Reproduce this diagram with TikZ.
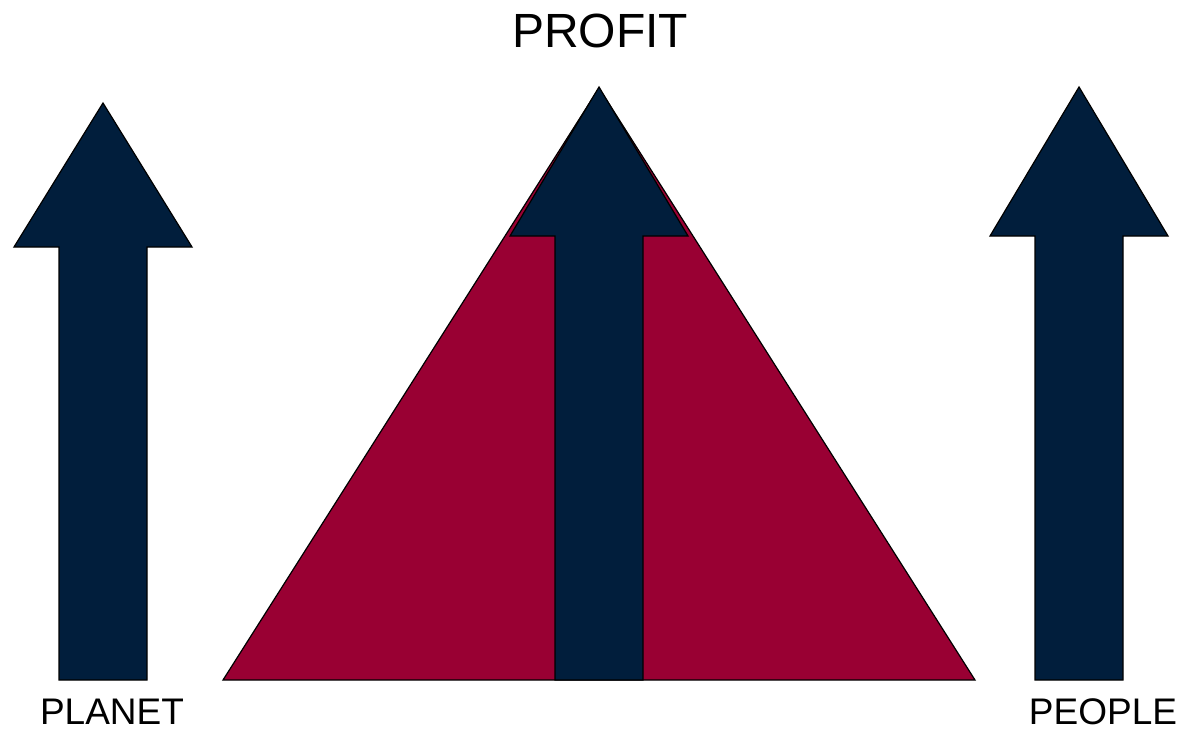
\documentclass[tikz,border=0pt]{standalone}
\usepackage{fontspec}
\setmainfont{Liberation Sans}
\usetikzlibrary{positioning}
\definecolor{navy}{HTML}{011E3C}
\definecolor{wine}{HTML}{990033}
\tikzset{
  uparrow/.style={draw=black,fill=navy,line width=1.2pt,line join=miter},
  pyramid/.style={draw=black,fill=wine,line width=1.2pt},
  biglabel/.style={anchor=base,font=\fontsize{48}{58}\selectfont},
  sidelabel/.style={anchor=base,font=\fontsize{37}{44}\selectfont}
}
\begin{document}
\begin{tikzpicture}[x=1pt,y=-1pt]
\useasboundingbox (0,0) rectangle (1180,730);
% triangle behind the middle arrow
\draw[pyramid] (223,680) -- (599,88) -- (975,680) -- cycle;
% the three arrows: centre x / tip y / neck y
\foreach \cx/\tip/\neck in {103/103/247, 599/87/236, 1079/87/236}
  \draw[uparrow] (\cx-44,680) -- (\cx-44,\neck) -- (\cx-89,\neck) -- (\cx,\tip)
    -- (\cx+89,\neck) -- (\cx+44,\neck) -- (\cx+44,680) -- cycle;
\node[biglabel] (profit) at (600,48) {PROFIT};
\node[sidelabel] (planet) at (112,724) {PLANET};
\node[sidelabel] (people) at (1103,724) {PEOPLE};
\end{tikzpicture}
\end{document}
